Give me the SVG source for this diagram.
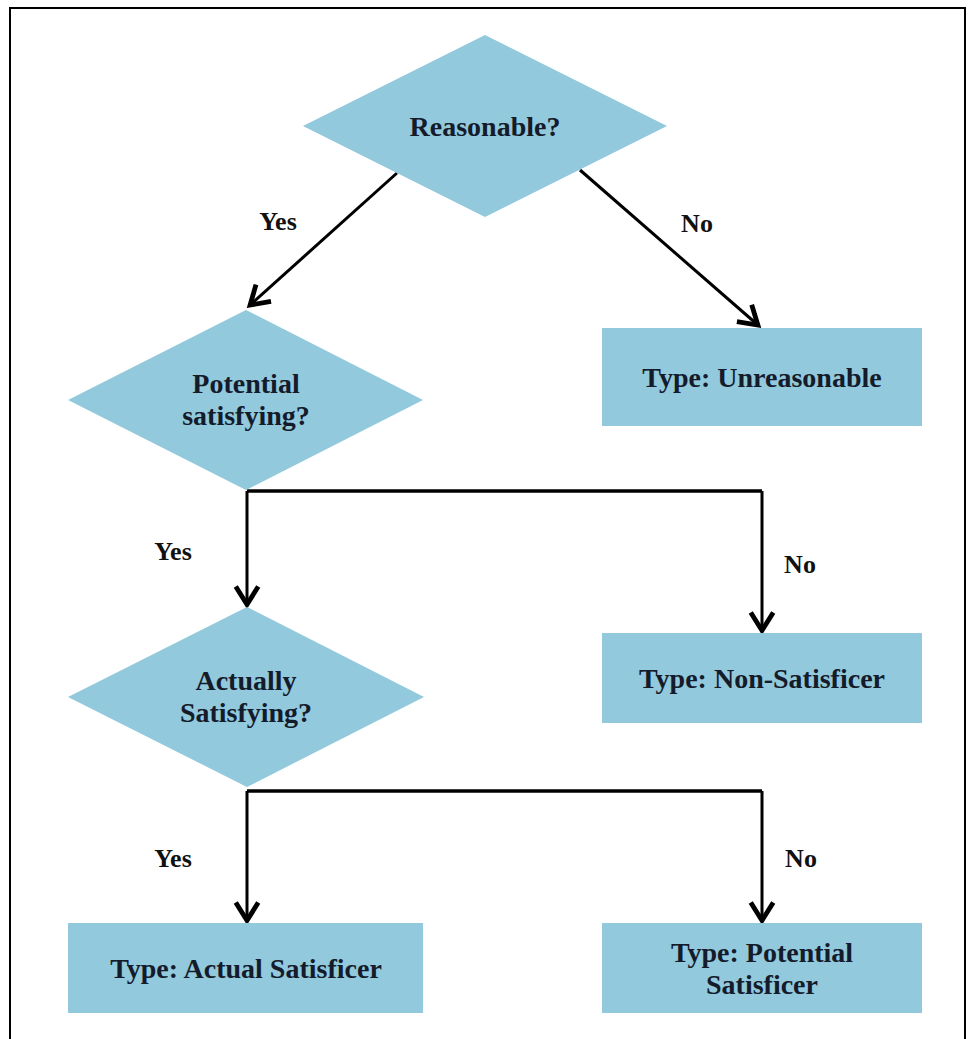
<svg xmlns="http://www.w3.org/2000/svg" width="968" height="1039" viewBox="0 0 968 1039">
  <style>
    .shape { fill: #92c9dc; stroke: none; }
    .node-text { font-family: "Liberation Serif", "Times New Roman", serif; font-weight: bold; font-size: 28px; fill: #141b2b; text-anchor: middle; }
    .label { font-family: "Liberation Serif", "Times New Roman", serif; font-weight: bold; font-size: 26px; fill: #111111; text-anchor: middle; }
    .arrow { fill: none; stroke: #000000; stroke-width: 3; marker-end: url(#head); }
    .bar { fill: none; stroke: #000000; stroke-width: 3.5; stroke-linejoin: miter; }
  </style>
  <defs>
    <marker id="head" markerUnits="userSpaceOnUse" markerWidth="30" markerHeight="30" refX="0" refY="0" viewBox="-16 -10 20 20" orient="auto">
      <path d="M-13,-7.5 L-1,0 L-13,7.5" fill="none" stroke="#000000" stroke-width="3.2" stroke-linejoin="miter"/>
    </marker>
  </defs>

  <rect width="968" height="1039" fill="#ffffff"/>
  <!-- frame -->
  <polyline points="10,1039 10,8 965,8 965,1039" fill="none" stroke="#000000" stroke-width="2"/>

  <!-- connectors -->
  <g id="connectors">
    <line class="arrow" x1="397" y1="173" x2="249" y2="306"/>
    <line class="arrow" x1="580" y1="170" x2="759" y2="326"/>
    <polyline class="bar" points="247,491 762,491"/>
    <line class="arrow" x1="247" y1="491" x2="247" y2="606"/>
    <line class="arrow" x1="762" y1="491" x2="762" y2="632"/>
    <polyline class="bar" points="247,791 762,791"/>
    <line class="arrow" x1="247" y1="791" x2="247" y2="922"/>
    <line class="arrow" x1="762" y1="791" x2="762" y2="922"/>
  </g>

  <!-- branch labels -->
  <g id="labels">
    <text class="label" x="278" y="230">Yes</text>
    <text class="label" x="697" y="232">No</text>
    <text class="label" x="173" y="560">Yes</text>
    <text class="label" x="800" y="573">No</text>
    <text class="label" x="173" y="867">Yes</text>
    <text class="label" x="801" y="867">No</text>
  </g>

  <g id="reasonable">
    <polygon class="shape" points="485,35 667,126 485,217 303,126"/>
    <text class="node-text" x="485" y="136">Reasonable?</text>
  </g>

  <g id="unreasonable">
    <rect class="shape" x="602" y="328" width="320" height="98"/>
    <text class="node-text" x="762" y="387">Type: Unreasonable</text>
  </g>

  <g id="potential-satisfying">
    <polygon class="shape" points="246,310 423,400 246,490 68,400"/>
    <text class="node-text" x="246" y="393">Potential</text>
    <text class="node-text" x="246" y="425">satisfying?</text>
  </g>

  <g id="non-satisficer">
    <rect class="shape" x="602" y="633" width="320" height="90"/>
    <text class="node-text" x="762" y="688">Type: Non-Satisficer</text>
  </g>

  <g id="actually-satisfying">
    <polygon class="shape" points="247,607 424,697 247,787 68,697"/>
    <text class="node-text" x="246" y="690">Actually</text>
    <text class="node-text" x="246" y="722">Satisfying?</text>
  </g>

  <g id="actual-satisficer">
    <rect class="shape" x="68" y="923" width="355" height="90"/>
    <text class="node-text" x="246" y="978">Type: Actual Satisficer</text>
  </g>

  <g id="potential-satisficer">
    <rect class="shape" x="602" y="923" width="320" height="90"/>
    <text class="node-text" x="762" y="962">Type: Potential</text>
    <text class="node-text" x="762" y="994">Satisficer</text>
  </g>
</svg>
